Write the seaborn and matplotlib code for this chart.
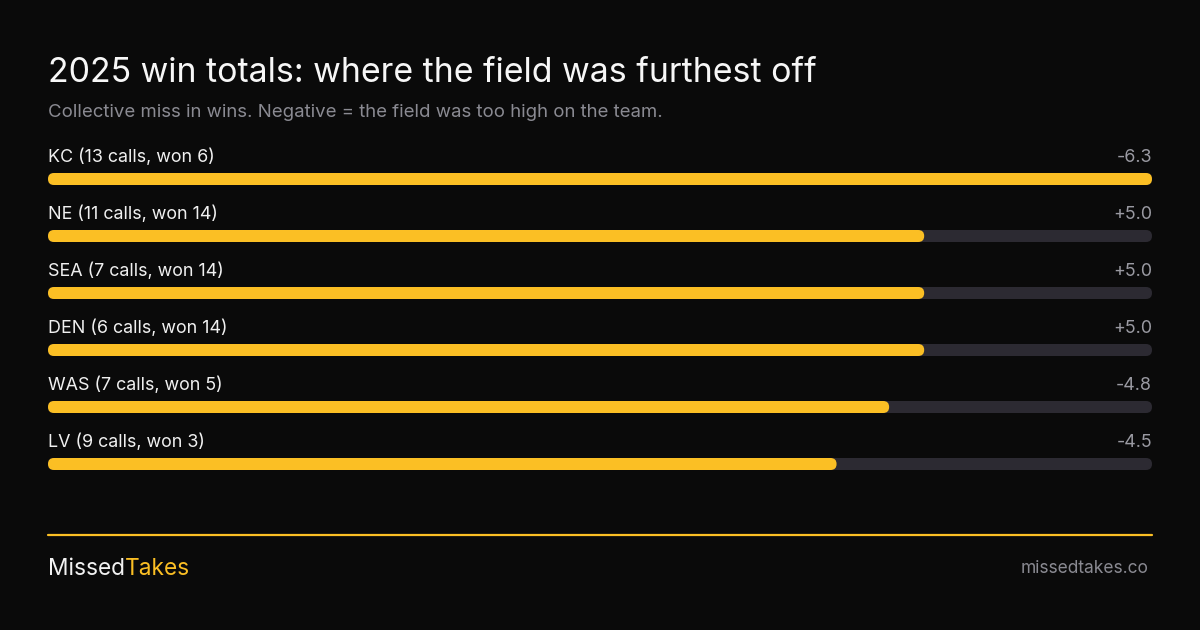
import matplotlib
matplotlib.use("Agg")
import matplotlib.pyplot as plt
import seaborn as sns
import pandas as pd
from matplotlib.patches import FancyBboxPatch

# Dados
times = ["KC", "NE", "SEA", "DEN", "WAS", "LV"]
chamadas = [13, 11, 7, 6, 7, 9]
vitorias = [6, 14, 14, 14, 5, 3]
erro = [-6.3, 5.0, 5.0, 5.0, -4.8, -4.5]

df = pd.DataFrame({"time": times, "erro": erro})
df["abs"] = df["erro"].abs()
maximo = df["abs"].max()
df["trilha"] = maximo

# Cores
fundo = "#0a0a0a"
amarelo = "#fbbf24"
trilha = "#2c2a32"

sns.set_theme(style="white")
plt.rcParams["font.family"] = ["Inter", "DejaVu Sans"]

W, H = 1200, 630
fig = plt.figure(figsize=(W / 100, H / 100), dpi=100, facecolor=fundo)

# Eixo das barras (em pixels do canvas)
x0, x1 = 48, 1152
passo = 57
y_primeiro = 179
topo = y_primeiro - passo / 2
base = topo + passo * len(times)
ax = fig.add_axes([x0 / W, 1 - base / H, (x1 - x0) / W, (base - topo) / H])
ax.set_facecolor(fundo)

sns.barplot(data=df, y="time", x="trilha", color=trilha, width=12 / passo,
            orient="h", ax=ax, saturation=1)
sns.barplot(data=df, y="time", x="abs", color=amarelo, width=12 / passo,
            orient="h", ax=ax, saturation=1)
ax.set_xlim(0, maximo)
ax.set_ylim(len(times) - 0.5, -0.5)

# Troca os retângulos por barras arredondadas
ux = maximo / (x1 - x0)
uy = len(times) / (base - topo)
for p in list(ax.patches):
    x, y, w, h = p.get_x(), p.get_y(), p.get_width(), p.get_height()
    cor = p.get_facecolor()
    p.remove()
    ax.add_patch(FancyBboxPatch((x, y), w, h,
                                boxstyle=f"round,pad=0,rounding_size={6 * ux}",
                                mutation_aspect=uy / ux, facecolor=cor,
                                edgecolor="none"))

for i, (t, c, v, e) in enumerate(zip(times, chamadas, vitorias, erro)):
    ax.text(0, i - 17 * uy, f"{t} ({c} calls, won {v})", color="#f0f0f0",
            fontsize=12.9, va="baseline", ha="left")
    ax.text(maximo, i - 17 * uy, f"{e:+.1f}", color="#9a9aa2",
            fontsize=12.9, va="baseline", ha="right")

ax.axis("off")

# Título e subtítulo
fig.text(x0 / W, 1 - 82 / H, "2025 win totals: where the field was furthest off",
         color="#f7f7f7", fontsize=24.4, va="baseline", ha="left")
fig.text(x0 / W, 1 - 117 / H,
         "Collective miss in wins. Negative = the field was too high on the team.",
         color="#8a8a92", fontsize=13.4, va="baseline", ha="left")

# Rodapé
fig.add_artist(plt.Line2D([x0 / W, x1 / W], [1 - 535 / H, 1 - 535 / H],
                          color=amarelo, linewidth=1.6))
marca = fig.text(x0 / W, 1 - 575 / H, "Missed", color="#f2f2f2",
                 fontsize=16.3, va="baseline", ha="left")
fig.canvas.draw()
bb = marca.get_window_extent()
fig.text(bb.x1 / W, 1 - 575 / H, "Takes", color=amarelo,
         fontsize=16.3, va="baseline", ha="left")
fig.text(1149 / W, 1 - 573 / H, "missedtakes.co", color="#8a8a92",
         fontsize=12.5, va="baseline", ha="right")

fig.savefig("out.png", dpi=100, facecolor=fundo)
